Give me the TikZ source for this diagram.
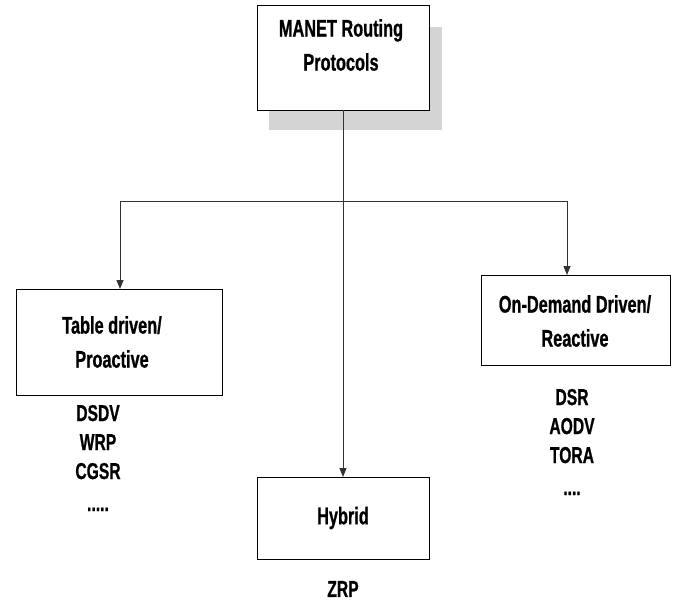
\documentclass[tikz,border=0pt]{standalone}
\usepackage{fontspec}
\setmainfont{Liberation Sans}[FakeStretch=0.68, BoldFeatures={FakeBold=0.8}]
\usetikzlibrary{arrows.meta}
\begin{document}
\begin{tikzpicture}[x=1pt,y=-1pt,
  every node/.style={font=\fontsize{24}{34}\selectfont\bfseries, inner sep=0pt},
  boxnode/.style={draw=black, line width=0.9pt, fill=white},
  listnode/.style={align=center, font=\fontsize{23}{29}\selectfont\bfseries},
  conn/.style={line width=0.9pt, draw=black!80},
  arr/.style={conn, -{Triangle[length=9pt,width=7pt]}}]
\useasboundingbox (0,0) rectangle (678,602);
% shadow
\fill[black!17] (269,27) rectangle (442,130);
% boxes
\draw[boxnode] (257,5) rectangle (429,110);
\node[align=center] (top) at (341,45) {MANET Routing\\Protocols};
\coordinate (topb) at (343,110);
\draw[boxnode] (16,289) rectangle (222,395);
\node[align=center] (left) at (112,342) {Table driven/\\Proactive};
\coordinate (leftt) at (120,289);
\draw[boxnode] (481,275) rectangle (670,365);
\node[align=center] (right) at (575,321) {On-Demand Driven/\\Reactive};
\coordinate (rightt) at (567,275);
\draw[boxnode] (257,477) rectangle (429,559);
\node (hyb) at (343,518) {Hybrid};
\coordinate (hybt) at (343,477);
% lists
\node[listnode] (l1) at (98,458) {DSDV\\WRP\\CGSR\\[3pt].....};
\node[listnode] (l2) at (572,442) {DSR\\AODV\\TORA\\[3pt]....};
\node[listnode] (l3) at (343,589) {ZRP};
% connectors
\coordinate (jl) at (120,201);
\coordinate (jr) at (567,201);
\draw[arr] (topb) -- (hybt);
\draw[conn] (jl) -- (jr);
\draw[arr] (jl) -- (leftt);
\draw[arr] (jr) -- (rightt);
\end{tikzpicture}
\end{document}
